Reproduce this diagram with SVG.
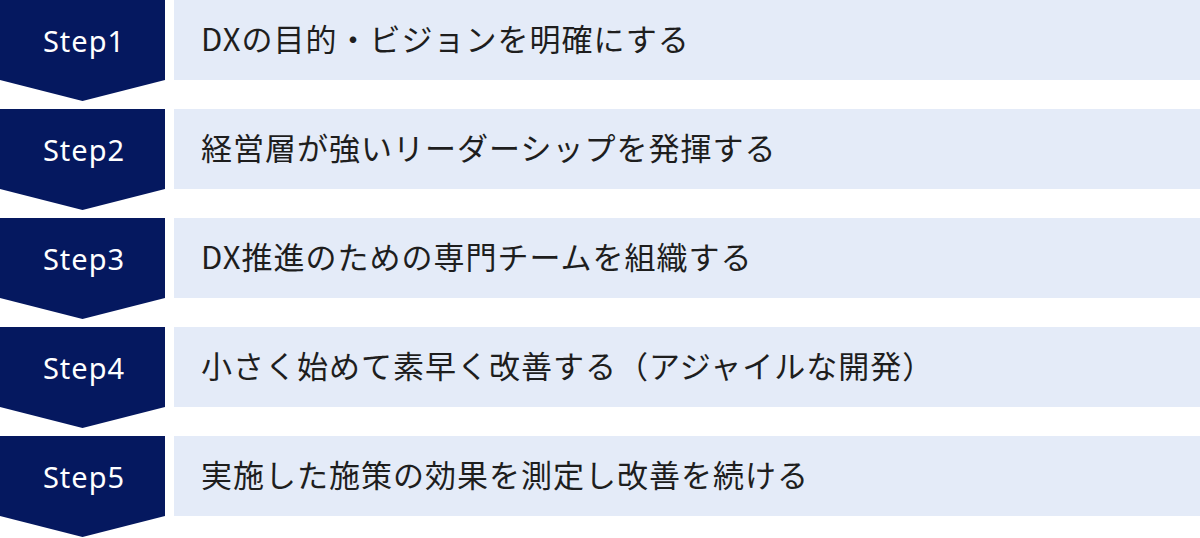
<svg xmlns="http://www.w3.org/2000/svg" width="1200" height="538" viewBox="0 0 1200 538">
<style>
.chev{fill:#05185f}
.bar{fill:#e4ebf8}
.step{fill:#ffffff;font-family:"Noto Sans","Noto Sans CJK JP",sans-serif;font-size:29px;letter-spacing:1px;text-anchor:middle}
.label{fill:#1e1e1e;font-family:"Noto Sans CJK JP","Noto Sans",sans-serif;font-size:31px;letter-spacing:1px}
</style>
<rect width="1200" height="538" fill="#ffffff"/>
<g id="step1">
<path class="chev" d="M0,0H165V80L82.5,101L0,80Z"/>
<rect class="bar" x="174" y="0" width="1026" height="80"/>
<text class="step" x="84" y="52">Step1</text>
<text class="label" x="201" y="51">DXの目的・ビジョンを明確にする</text>
</g>
<g id="step2">
<path class="chev" d="M0,109H165V189L82.5,210L0,189Z"/>
<rect class="bar" x="174" y="109" width="1026" height="80"/>
<text class="step" x="84" y="161">Step2</text>
<text class="label" x="201" y="160">経営層が強いリーダーシップを発揮する</text>
</g>
<g id="step3">
<path class="chev" d="M0,218H165V298L82.5,319L0,298Z"/>
<rect class="bar" x="174" y="218" width="1026" height="80"/>
<text class="step" x="84" y="270">Step3</text>
<text class="label" x="201" y="269">DX推進のための専門チームを組織する</text>
</g>
<g id="step4">
<path class="chev" d="M0,327H165V407L82.5,428L0,407Z"/>
<rect class="bar" x="174" y="327" width="1026" height="80"/>
<text class="step" x="84" y="379">Step4</text>
<text class="label" x="201" y="378">小さく始めて素早く改善する（アジャイルな開発）</text>
</g>
<g id="step5">
<path class="chev" d="M0,436H165V516L82.5,537L0,516Z"/>
<rect class="bar" x="174" y="436" width="1026" height="80"/>
<text class="step" x="84" y="488">Step5</text>
<text class="label" x="201" y="487">実施した施策の効果を測定し改善を続ける</text>
</g>
<g id="connectors"/>
</svg>
